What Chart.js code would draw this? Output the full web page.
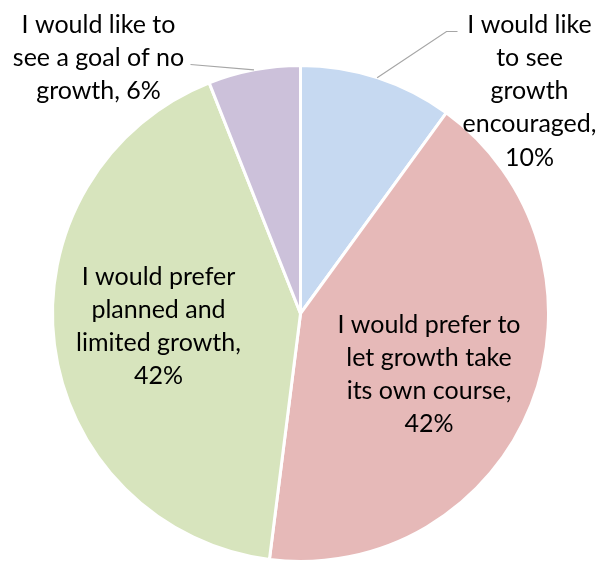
<!DOCTYPE html>
<html>
<head>
<meta charset="utf-8">
<title>Attitudes toward growth</title>
<script src="https://cdn.jsdelivr.net/npm/chart.js@4/dist/chart.umd.min.js"></script>
<style>
  html, body { margin: 0; padding: 0; background: #fff; }
  #wrap { width: 608px; height: 563px; }
</style>
</head>
<body>
<div id="wrap"><canvas id="pie" width="608" height="563"></canvas></div>
<script>
// Survey answers, clockwise from 12 o'clock
const categories = [
  'I would like to see growth encouraged',
  'I would prefer to let growth take its own course',
  'I would prefer planned and limited growth',
  'I would like to see a goal of no growth'
];
const shares = [10, 42, 42, 6];
// Label text per slice, already broken into lines
const labelLines = [
  ['I would like', 'to see', 'growth', 'encouraged,', '10%'],
  ['I would prefer to', 'let growth take', 'its own course,', '42%'],
  ['I would prefer', 'planned and', 'limited growth,', '42%'],
  ['I would like to', 'see a goal of no', 'growth, 6%']
];

const sliceColors = ['#C6D9F1', '#E6B9B8', '#D7E4BD', '#CCC1DA'];

// Label placement relative to the pie centre: x of text centre, y of first baseline.
// Leader: list of extra points (relative to centre) after the slice's outer midpoint.
const labelLayout = [
  { dx: 229, dy: -281, leader: [[146, -282], [157, -282]] },
  { dx: 128.5, dy: 19 },
  { dx: -142, dy: -29 },
  { dx: -202, dy: -281, leader: [[-110, -249]] }
];

const pieLabels = {
  id: 'pieLabels',
  afterDatasetsDraw(chart) {
    const ctx = chart.ctx;
    const meta = chart.getDatasetMeta(0);
    const lineH = 33.3;
    ctx.save();
    meta.data.forEach((arc, i) => {
      const { x: cx, y: cy, startAngle, endAngle, outerRadius } = arc.getProps(['x', 'y', 'startAngle', 'endAngle', 'outerRadius'], true);
      const lay = labelLayout[i];
      if (lay.leader) {
        const mid = (startAngle + endAngle) / 2;
        ctx.beginPath();
        ctx.moveTo(cx + Math.cos(mid) * outerRadius, cy + Math.sin(mid) * outerRadius);
        lay.leader.forEach(p => ctx.lineTo(cx + p[0], cy + p[1]));
        ctx.strokeStyle = '#A6A6A6';
        ctx.lineWidth = 1.2;
        ctx.stroke();
      }
      ctx.fillStyle = '#000';
      ctx.font = '25px Lato';
      ctx.textAlign = 'center';
      ctx.textBaseline = 'alphabetic';
      labelLines[i].forEach((t, k) => {
        ctx.fillText(t, cx + lay.dx, cy + lay.dy + k * lineH);
      });
    });
    ctx.restore();
  }
};

new Chart(document.getElementById('pie'), {
  type: 'pie',
  data: {
    labels: categories,
    datasets: [{
      data: shares,
      backgroundColor: sliceColors,
      borderColor: '#FFFFFF',
      borderWidth: 3,
      hoverOffset: 0
    }]
  },
  options: {
    responsive: false,
    animation: false,
    layout: { padding: { top: 64, bottom: 0, left: 51, right: 58 } },
    plugins: {
      legend: { display: false },
      tooltip: { enabled: false }
    }
  },
  plugins: [pieLabels]
});
</script>
</body>
</html>
